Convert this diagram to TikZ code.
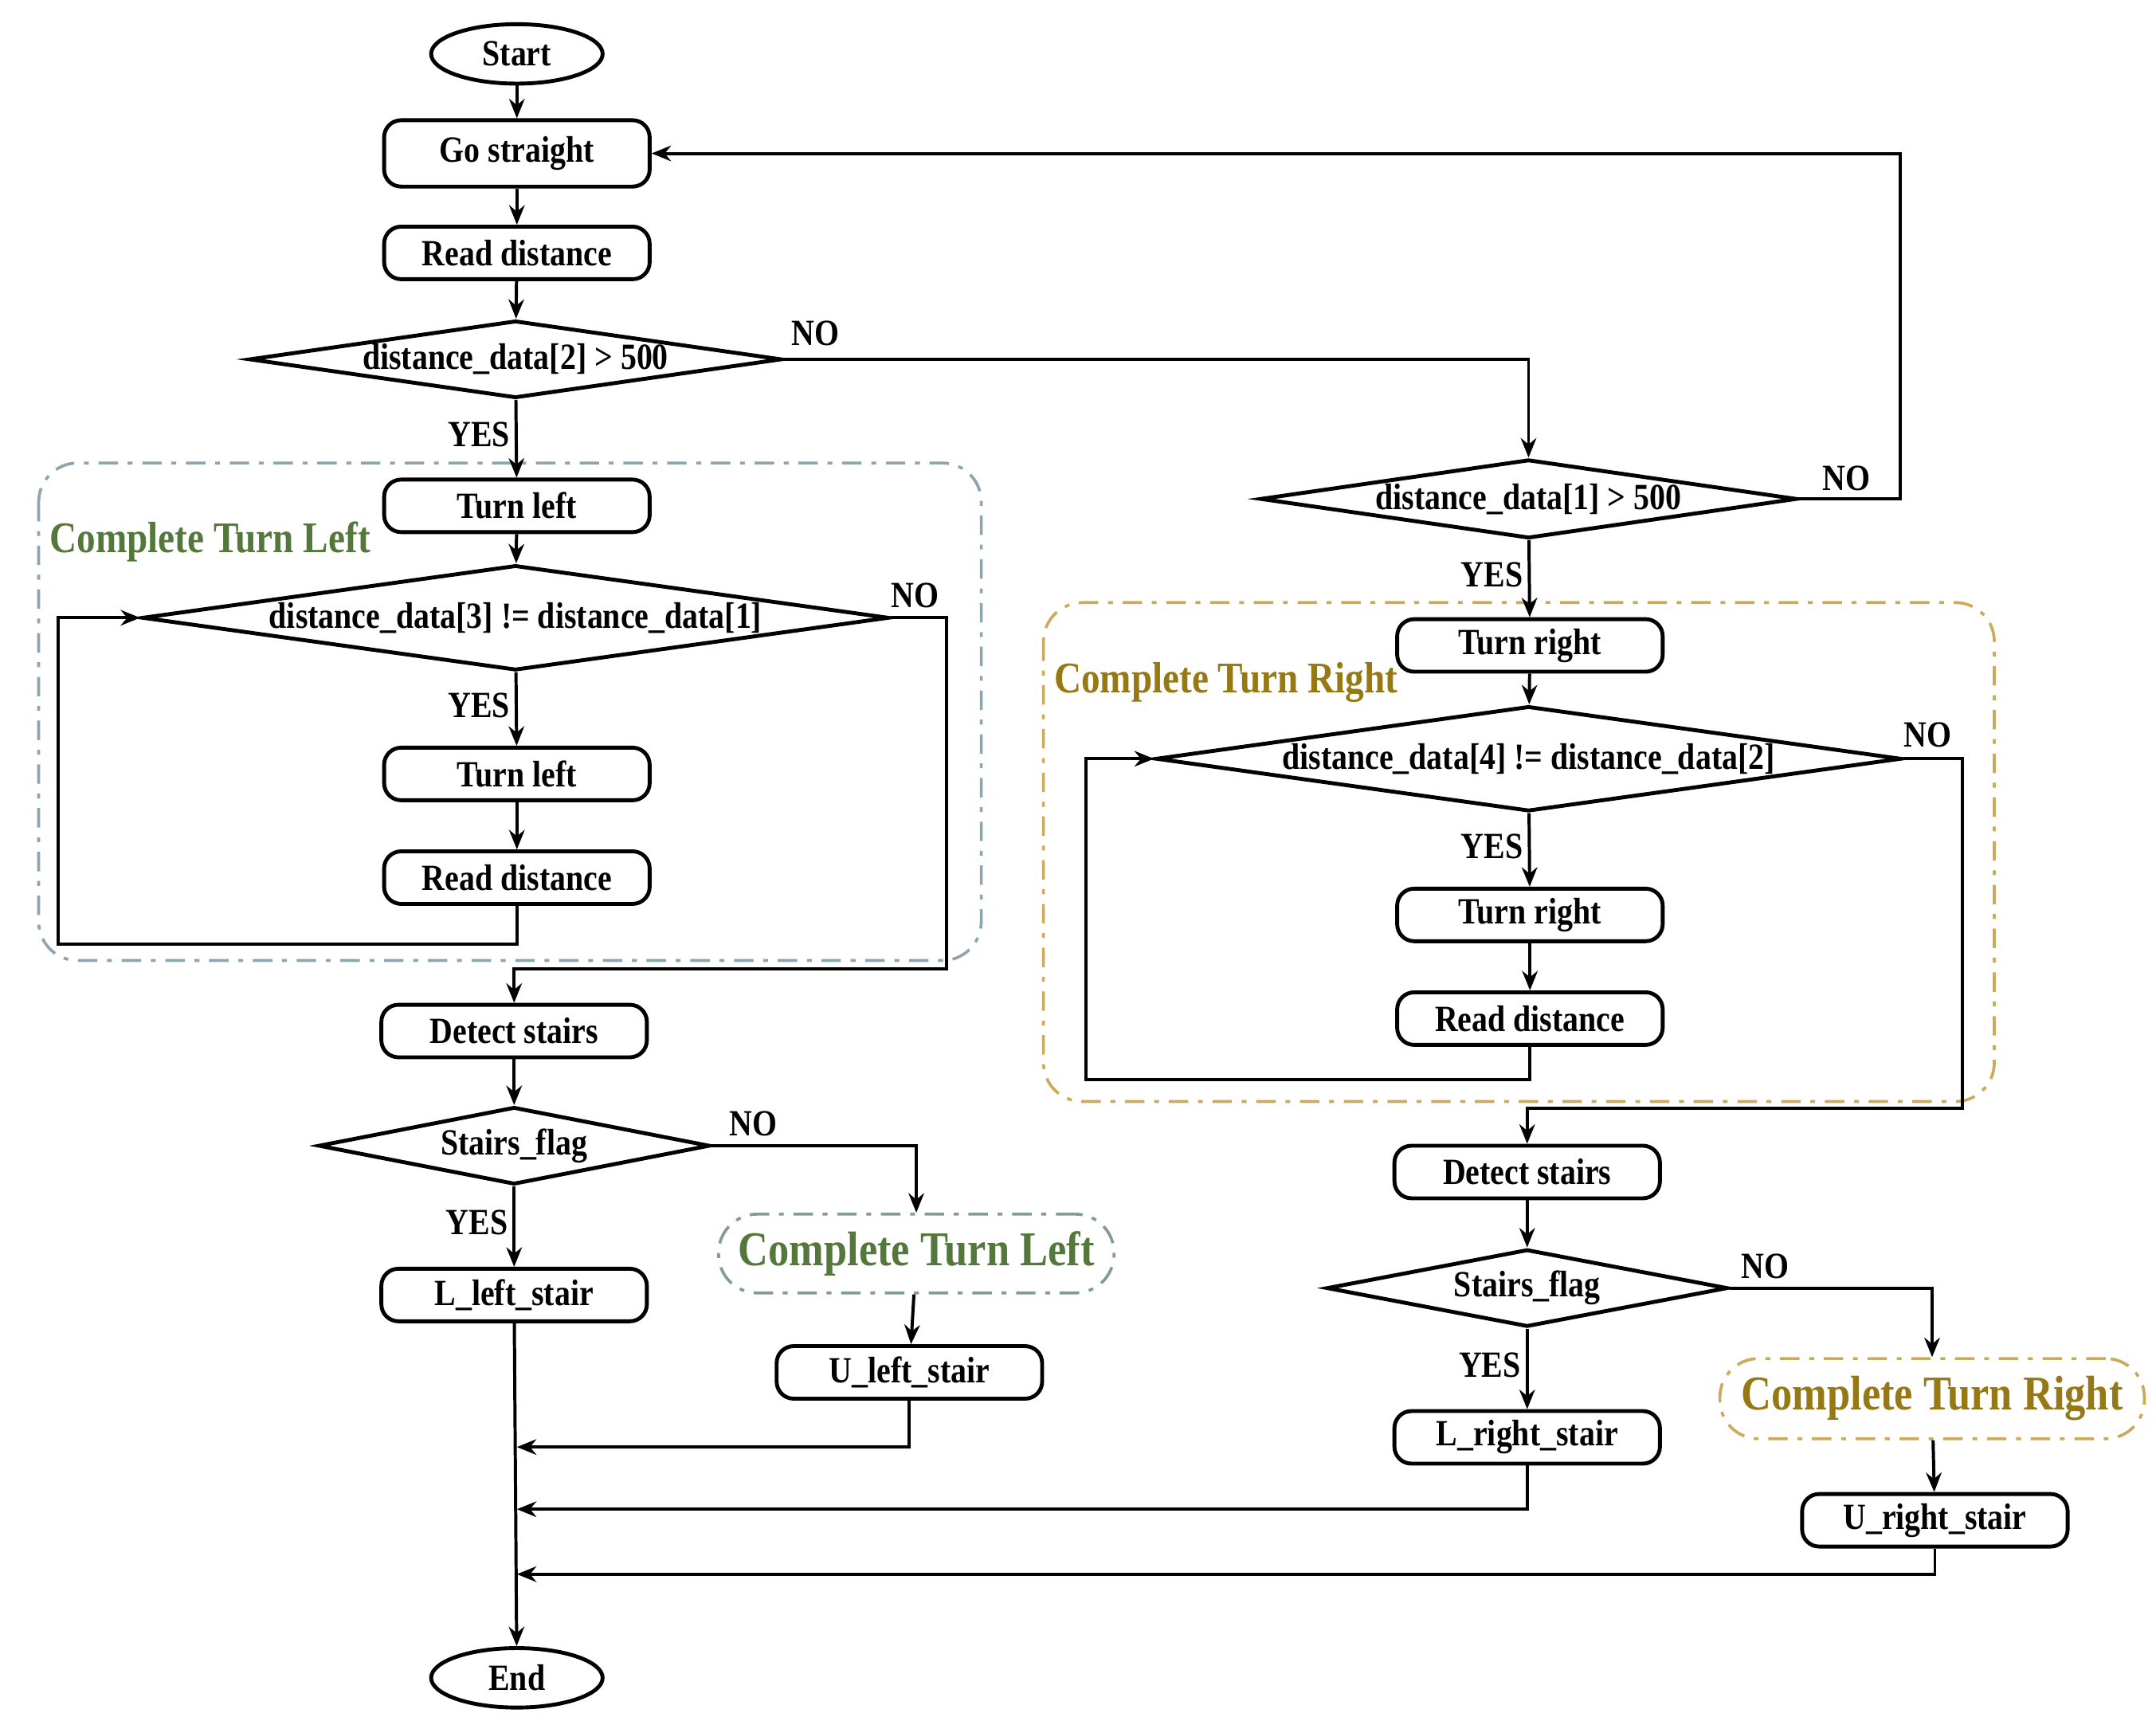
\documentclass[tikz,border=0pt]{standalone}
\usepackage{fontspec}
\setmainfont{Liberation Serif}[FakeStretch=0.86]
\usetikzlibrary{shapes.geometric,arrows.meta}
\definecolor{tlg}{RGB}{84,120,60}
\definecolor{trg}{RGB}{150,120,20}
\definecolor{lbox}{RGB}{140,165,175}
\definecolor{rbox}{RGB}{205,170,90}
\begin{document}
\begin{tikzpicture}[x=0.01cm,y=-0.01cm,
  font=\fontsize{7.6}{9}\selectfont\bfseries,
  box/.style={draw,line width=0.8pt,rounded corners=3.5pt,minimum width=1.92cm,minimum height=0.38cm,inner sep=0},
  term/.style={draw,line width=0.8pt,ellipse,minimum width=1.24cm,minimum height=0.43cm,inner sep=0},
  dia/.style={draw,line width=0.8pt,diamond,inner sep=0},
  ln/.style={line width=0.65pt},
  ar/.style={ln,-{Stealth[length=4pt,width=3.2pt]}},
  lbl/.style={inner sep=1pt},
  grp/.style={line width=0.6pt,dash pattern=on 4pt off 2pt on 1pt off 2pt,rounded corners=8pt},
  ctl/.style={draw=lbox!80!tlg,grp,rounded corners=0.28cm,minimum width=2.86cm,minimum height=0.57cm,text=tlg,font=\fontsize{10}{12}\selectfont\bfseries},
  ctr/.style={draw=rbox,grp,rounded corners=0.28cm,minimum width=3.07cm,minimum height=0.58cm,text=trg,font=\fontsize{10}{12}\selectfont\bfseries}]
\useasboundingbox (0,0) rectangle (1560,1242);
% group frames
\draw[lbox,grp] (28,335) rectangle (710,695);
\draw[rbox,grp] (755,436) rectangle (1443,797);
\node[text=tlg,font=\fontsize{9}{11}\selectfont\bfseries] (lgl) at (152,392) {Complete Turn Left};
\node[text=trg,font=\fontsize{9}{11}\selectfont\bfseries] (rgl) at (887,494) {Complete Turn Right};
% left column
\node[term] (start) at (374,39) {Start};
\node[box,minimum height=0.48cm] (go) at (374,111) {Go straight};
\node[box] (rd1) at (374,183) {Read distance};
\node[dia,minimum width=3.85cm,minimum height=0.56cm] (d1) at (373,260) {};
\node at (d1) {distance\_data[2] > 500};
\node[box] (tl1) at (374,366) {Turn left};
\node[dia,minimum width=5.4cm,minimum height=0.76cm] (d3) at (373,447) {};
\node at (d3) {distance\_data[3] != distance\_data[1]};
\node[box] (tl2) at (374,560) {Turn left};
\node[box] (rd2) at (374,635) {Read distance};
\node[box] (ds1) at (372,746) {Detect stairs};
\node[dia,minimum width=2.83cm,minimum height=0.56cm] (sf1) at (372,829) {};
\node at (sf1) {Stairs\_flag};
\node[box] (ll) at (372,937) {L\_left\_stair};
\node[ctl] (ctl) at (663,907) {Complete Turn Left};
\node[box] (ul) at (658,993) {U\_left\_stair};
\node[term] (end) at (374,1214) {End};
% right column
\node[dia,minimum width=3.88cm,minimum height=0.57cm] (d2) at (1106,361) {};
\node at (d2) {distance\_data[1] > 500};
\node[box] (tr1) at (1107,467) {Turn right};
\node[dia,minimum width=5.39cm,minimum height=0.76cm] (d4) at (1106,549) {};
\node at (d4) {distance\_data[4] != distance\_data[2]};
\node[box] (tr2) at (1107,662) {Turn right};
\node[box] (rd3) at (1107,737) {Read distance};
\node[box] (ds2) at (1105,848) {Detect stairs};
\node[dia,minimum width=2.9cm,minimum height=0.56cm] (sf2) at (1105,932) {};
\node at (sf2) {Stairs\_flag};
\node[box] (lr) at (1105,1040) {L\_right\_stair};
\node[ctr] (ctr) at (1398,1012) {Complete Turn Right};
\node[box] (ur) at (1400,1100) {U\_right\_stair};
% helper coordinates
\coordinate (j1) at (374,1047);
\coordinate (j2) at (374,1092);
\coordinate (j3) at (374,1139);
% connectors left
\draw[ar] (start) -- (go);
\draw[ar] (go) -- (rd1);
\draw[ar] (rd1) -- (d1);
\draw[ar] (d1) -- node[lbl,left,pos=0.45] {YES} (tl1);
\draw[ar] (tl1) -- (d3);
\draw[ar] (d3) -- node[lbl,left,pos=0.45] {YES} (tl2);
\draw[ar] (tl2) -- (rd2);
\draw[ar] (rd2.south) |- (42,683) |- (d3.west);
\draw[ar] (d3.east) -| (685,701) -| (ds1.north);
\node[lbl] at (662,431) {NO};
\draw[ar] (ds1) -- (sf1);
\draw[ar] (sf1) -- node[lbl,left,pos=0.45] {YES} (ll);
\draw[ar] (sf1.east) -| (ctl.north);
\node[lbl] at (545,813) {NO};
\draw[ar] (ctl) -- (ul);
\draw[ar] (ul.south) |- (j1);
\draw[ar] (ll) -- (end);
% connectors right
\draw[ar] (d1.east) -| (d2.north);
\node[lbl] at (590,241) {NO};
\draw[ar] (d2.east) -| (1375,111) -- (go.east);
\node[lbl] at (1336,346) {NO};
\draw[ar] (d2) -- node[lbl,left,pos=0.45] {YES} (tr1);
\draw[ar] (tr1) -- (d4);
\draw[ar] (d4) -- node[lbl,left,pos=0.45] {YES} (tr2);
\draw[ar] (tr2) -- (rd3);
\draw[ar] (rd3.south) |- (786,781) |- (d4.west);
\draw[ar] (d4.east) -| (1420,802) -| (ds2.north);
\node[lbl] at (1395,532) {NO};
\draw[ar] (ds2) -- (sf2);
\draw[ar] (sf2) -- node[lbl,left,pos=0.45] {YES} (lr);
\draw[ar] (sf2.east) -| (ctr.north);
\node[lbl] at (1277,916) {NO};
\draw[ar] (ctr) -- (ur);
\draw[ar] (lr.south) |- (j2);
\draw[ar] (ur.south) |- (j3);
\end{tikzpicture}
\end{document}
